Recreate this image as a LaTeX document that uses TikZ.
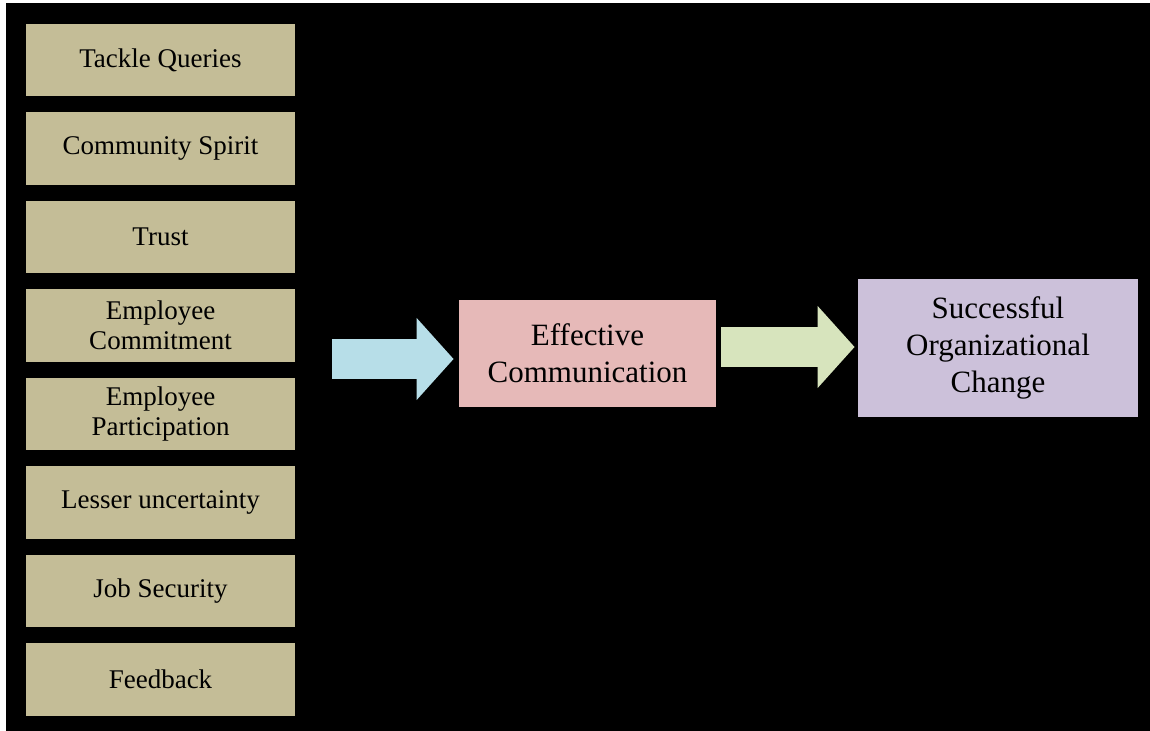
\documentclass[tikz,border=0pt]{standalone}
\usepackage{fontspec}
\setmainfont{Liberation Serif}
\usetikzlibrary{arrows.meta}
\definecolor{tanbox}{HTML}{C4BD97}
\definecolor{pinkbox}{HTML}{E6B9B8}
\definecolor{lilacbox}{HTML}{CCC1DA}
\definecolor{bluearrow}{HTML}{B7DEE8}
\definecolor{greenarrow}{HTML}{D7E4BD}

\begin{document}
\begin{tikzpicture}[x=0.5pt, y=-0.5pt, line join=miter,
  factor/.style={fill=tanbox, minimum width=134.5pt, minimum height=36.25pt, inner sep=0pt,
    align=center, font=\fontsize{13.5}{15}\selectfont},
  result/.style={minimum width=#1, inner sep=0pt, align=center, font=\fontsize{15.5}{18.5}\selectfont},
  fatarrow/.style={line width=20pt, -{Triangle[length=18.5pt, width=40pt]}}]
  \useasboundingbox (0,0) rectangle (1150,731);
  \fill[white] (0,0) rectangle (1150,731);
  \fill[black] (6,3) rectangle (1150,731);
  \foreach \lbl [count=\i] in {Tackle Queries, Community Spirit, Trust, Employee\\Commitment,
      Employee\\Participation, Lesser uncertainty, Job Security, Feedback}
    \node[factor] (f\i) at (160.5, {60+88.5*(\i-1)}) {\lbl};
  \node[result=128.5pt, fill=pinkbox, minimum height=53.5pt] (effcomm) at (587.5,353.5) {Effective\\Communication};
  \node[result=140pt, fill=lilacbox, minimum height=69pt] (success) at (998,348) {Successful\\Organizational\\Change};
  \coordinate (bluestart) at (332,359);
  \coordinate (greenrow) at (0,347);
  \draw[fatarrow, bluearrow, shorten >=2.5pt] (bluestart) -- (effcomm.west |- bluestart);
  \draw[fatarrow, greenarrow, shorten <=2.5pt, shorten >=1.5pt] (effcomm.east |- greenrow) -- (success.west |- greenrow);
\end{tikzpicture}
\end{document}
